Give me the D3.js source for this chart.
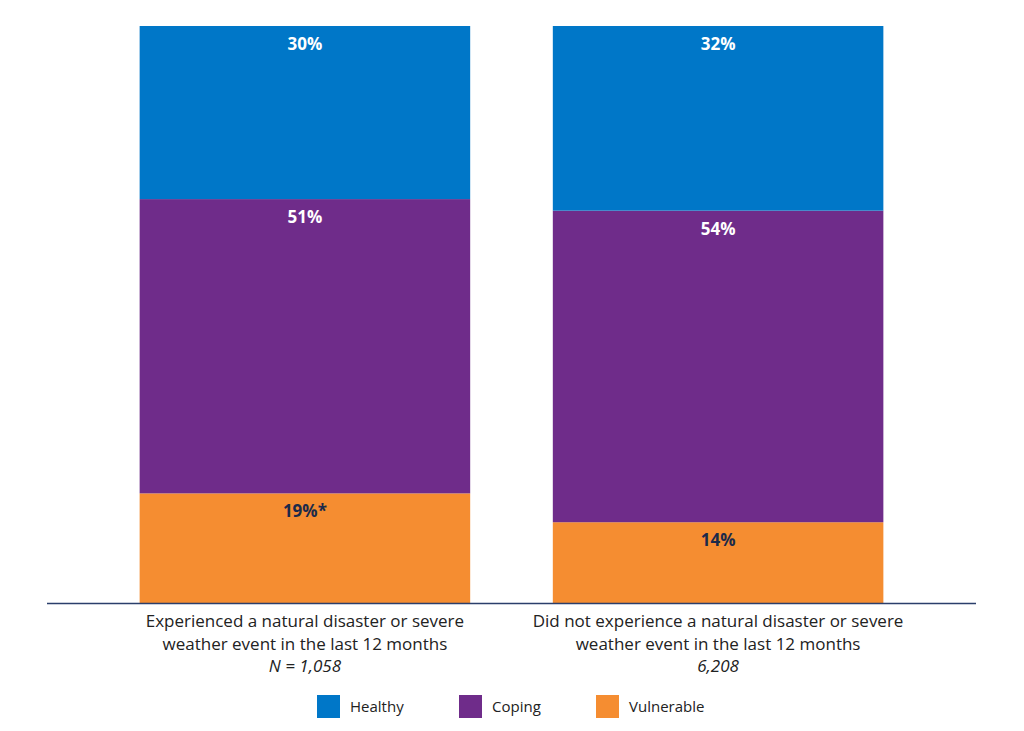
<!DOCTYPE html>
<html><head><meta charset="utf-8">
<script src="https://cdn.jsdelivr.net/npm/d3@7"></script>
<style>body{margin:0;background:#fff;font-family:"Open Sans",sans-serif;}</style>
</head><body><svg id="c" width="1024" height="731"></svg>
<script>
var groups = ["g1", "g2"];
var groupLines = [
  ["Experienced a natural disaster or severe", "weather event in the last 12 months", "N = 1,058"],
  ["Did not experience a natural disaster or severe", "weather event in the last 12 months", "6,208"]
];
var series = ["Vulnerable", "Coping", "Healthy"];
var vulnerable = [19, 14];
var coping = [51, 54];
var healthy = [30, 32];
var labels = {Vulnerable: ["19%*", "14%"], Coping: ["51%", "54%"], Healthy: ["30%", "32%"]};
var colors = {Healthy: "#0077c8", Coping: "#6f2c8a", Vulnerable: "#f58d31"};
var legendOrder = ["Healthy", "Coping", "Vulnerable"];

var svg = d3.select("#c");
var x = d3.scaleBand().domain(groups).range([57, 966]).paddingInner(0.2).paddingOuter(0.2);
var y = d3.scaleLinear().domain([0, 100]).range([603, 26]);

var rows = groups.map(function(g, i){
  return {g: g, Vulnerable: vulnerable[i], Coping: coping[i], Healthy: healthy[i]};
});
var stack = d3.stack().keys(series)(rows);

stack.forEach(function(layer){
  var key = layer.key;
  var sel = svg.append("g");
  sel.selectAll("rect").data(layer).enter().append("rect")
    .attr("x", function(d){ return x(d.data.g); })
    .attr("width", x.bandwidth())
    .attr("y", function(d){ return y(d[1]); })
    .attr("height", function(d){ return y(d[0]) - y(d[1]); })
    .attr("fill", colors[key]);
  sel.selectAll("text").data(layer).enter().append("text")
    .attr("x", function(d){ return x(d.data.g) + x.bandwidth()/2; })
    .attr("y", function(d){ return y(d[1]) + 24; })
    .attr("text-anchor", "middle")
    .attr("font-size", 17).attr("font-weight", "bold")
    .attr("fill", key == "Vulnerable" ? "#1b2a4a" : "#fff")
    .text(function(d, i){ return labels[key][i]; });
});

svg.append("line").attr("x1", 47).attr("x2", 976).attr("y1", 603.5).attr("y2", 603.5)
  .attr("stroke", "#2b3f6b").attr("stroke-width", 1.5);

groups.forEach(function(g, i){
  var cx = x(g) + x.bandwidth()/2;
  groupLines[i].forEach(function(t, j){
    svg.append("text").attr("x", cx).attr("y", 627 + j*22.5)
      .attr("text-anchor", "middle").attr("font-size", 17).attr("fill", "#222")
      .attr("font-style", j == 2 ? "italic" : "normal")
      .text(t);
  });
});

var legX = [317, 459, 596];
legendOrder.forEach(function(k, i){
  svg.append("rect").attr("x", legX[i]).attr("y", 695).attr("width", 23).attr("height", 23).attr("fill", colors[k]);
  svg.append("text").attr("x", legX[i] + 33).attr("y", 712).attr("font-size", 15).attr("fill", "#222").text(k);
});
</script></body></html>
